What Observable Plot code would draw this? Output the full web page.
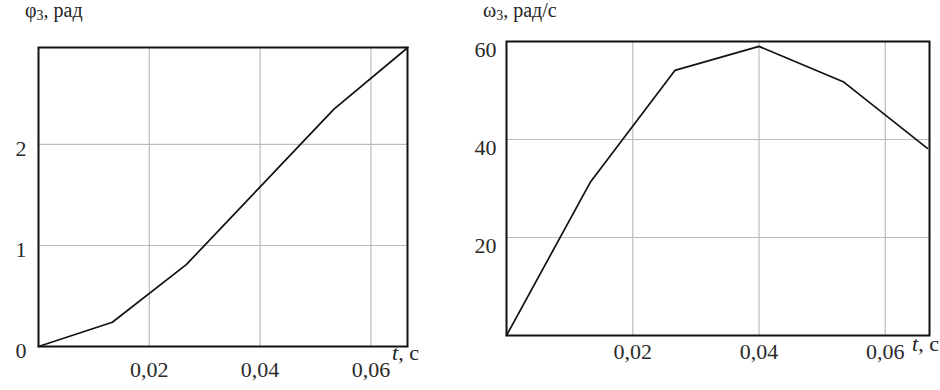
<!DOCTYPE html>
<html>
<head>
<meta charset="utf-8">
<script src="https://cdn.jsdelivr.net/npm/d3@7"></script>
<script src="https://cdn.jsdelivr.net/npm/@observablehq/plot@0.6"></script>
<style>
  html, body { margin: 0; padding: 0; background: #fff; }
  #wrap { position: relative; width: 940px; height: 390px; overflow: hidden; font-family: "Liberation Serif", "DejaVu Serif", serif; color: #222; }
  .panel { position: absolute; top: 0; }
  .ttl { position: absolute; font-size: 20px; white-space: nowrap; }
  .ttl sub { font-size: 14px; vertical-align: -3px; line-height: 0; }
  .tl { position: absolute; font-size: 22px; white-space: nowrap; }
</style>
</head>
<body>
<div id="wrap">
  <div class="panel" id="left" style="left:0"></div>
  <div class="panel" id="right" style="left:470px"></div>
  <div class="ttl" style="left:25px; top:-1px">φ<sub>3</sub>, рад</div>
  <div class="ttl" style="left:483px; top:-1px">ω<sub>3</sub>, рад/с</div>
  <div class="tl" style="left:392px; top:340px"><i>t</i>, с</div>
  <div class="tl" style="left:912px; top:331px"><i>t</i>, с</div>
</div>
<script>
// time points, s
const times = [0, 0.01333, 0.02667, 0.04, 0.05333, 0.06667];
// angle φ3, rad
const phi3 = [0, 0.24, 0.81, 1.58, 2.35, 2.96];
// angular velocity ω3, rad/s
const omega3 = [0, 31.4, 54.1, 59.0, 51.8, 38.2];

const xTicks = [0.02, 0.04, 0.06];
const phiTicks = [0, 1, 2];
const omegaTicks = [20, 40, 60];

const fmtX = d => d.toFixed(2).replace(".", ",");

const phiData = times.map((t, i) => ({t, v: phi3[i]}));
const omegaData = times.map((t, i) => ({t, v: omega3[i]}));

const gridColor = "#bdbdbd";
const FF = "Liberation Serif";

const left = Plot.plot({
  width: 470, height: 390,
  marginLeft: 38, marginRight: 63, marginTop: 47, marginBottom: 44,
  style: {fontFamily: "'Liberation Serif', serif", fontSize: "22px", color: "#2a2a2a", background: "transparent"},
  x: {domain: [0, 0.0666]},
  y: {domain: [0, 2.96]},
  marks: [
    Plot.gridX(xTicks, {stroke: gridColor, strokeOpacity: 1, strokeWidth: 1.2}),
    Plot.gridY([1, 2], {stroke: gridColor, strokeOpacity: 1, strokeWidth: 1.2}),
    Plot.axisX(xTicks, {tickSize: 0, tickPadding: 15, tickFormat: fmtX, label: null, fontSize: 22, fontFamily: FF}),
    Plot.axisY(phiTicks, {tickSize: 0, tickPadding: 12, tickFormat: d => String(d), label: null, fontSize: 22, fontFamily: FF, dy: 4}),
    Plot.line(phiData, {x: "t", y: "v", stroke: "#111", strokeWidth: 1.7}),
    Plot.frame({stroke: "#111", strokeWidth: 2})
  ]
});
document.getElementById("left").appendChild(left);

const right = Plot.plot({
  width: 470, height: 390,
  marginLeft: 36, marginRight: 11, marginTop: 41, marginBottom: 55,
  style: {fontFamily: "'Liberation Serif', serif", fontSize: "22px", color: "#2a2a2a", background: "transparent"},
  x: {domain: [0, 0.067]},
  y: {domain: [0, 60]},
  marks: [
    Plot.gridX(xTicks, {stroke: gridColor, strokeOpacity: 1, strokeWidth: 1.2}),
    Plot.gridY([20, 40], {stroke: gridColor, strokeOpacity: 1, strokeWidth: 1.2}),
    Plot.axisX(xTicks, {tickSize: 0, tickPadding: 8, tickFormat: fmtX, label: null, fontSize: 22, fontFamily: FF}),
    Plot.axisY(omegaTicks, {tickSize: 0, tickPadding: 10, tickFormat: d => String(d), label: null, fontSize: 22, fontFamily: FF, dy: 8}),
    Plot.line(omegaData, {x: "t", y: "v", stroke: "#111", strokeWidth: 1.7}),
    Plot.frame({stroke: "#111", strokeWidth: 2})
  ]
});
document.getElementById("right").appendChild(right);
</script>
</body>
</html>
